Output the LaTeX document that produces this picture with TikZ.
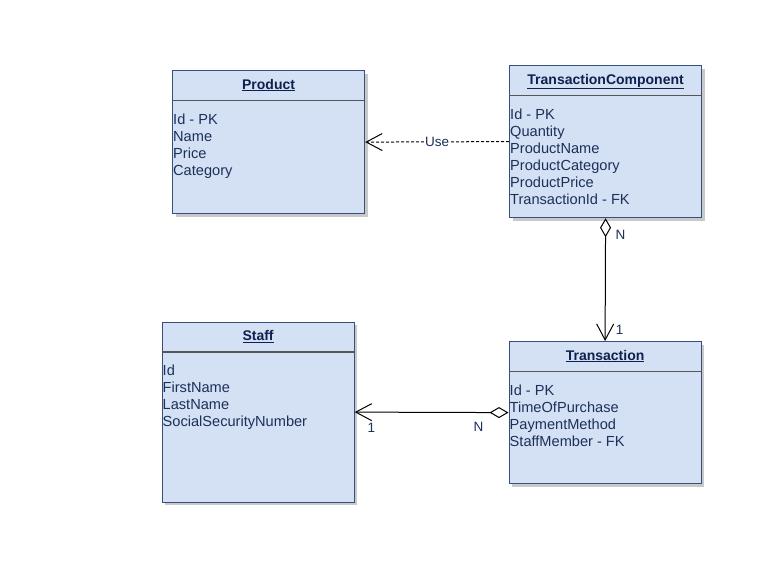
\documentclass[tikz,border=0pt]{standalone}
\usepackage{fontspec}
\setmainfont{Liberation Sans}
\usetikzlibrary{arrows.meta,shadows}
\definecolor{boxfill}{RGB}{212,225,245}
\definecolor{boxline}{RGB}{52,80,125}
\definecolor{divline}{RGB}{85,85,90}
\definecolor{txt}{RGB}{28,48,88}
\definecolor{ttl}{RGB}{14,32,78}
\tikzset{
  classbox/.style={draw=boxline, fill=boxfill, line width=1.2pt, anchor=north west,
    inner sep=0pt, minimum width=192pt,
    drop shadow={shadow xshift=3pt, shadow yshift=-3pt, opacity=0.35, fill=black!60}},
  classtitle/.style={anchor=base, inner sep=0pt, text=ttl, font=\fontsize{14}{16}\selectfont\bfseries},
  attr/.style={anchor=base west, inner sep=0pt, text=txt, font=\fontsize{14.6}{16}\selectfont},
  lbl/.style={inner sep=0pt, text=txt, font=\fontsize{13.5}{15}\selectfont},
  conn/.style={line width=1pt, black},
  barb/.tip={Straight Barb[length=16pt,width=17pt,line width=1pt]},
  agg/.tip={Diamond[open,length=19pt,width=11pt,line width=1pt]}
}
\newcommand{\classheader}[2]{%
  \node[classtitle] (#1-title) at ([yshift=-19pt]#1.north) {\underline{#2}};
  \draw[divline, line width=1.2pt] ([yshift=-30.5pt]#1.north west) -- ([yshift=-30.5pt]#1.north east);}
\begin{document}
\begin{tikzpicture}[x=1pt,y=-1pt]
\useasboundingbox[fill=white] (0,0) rectangle (777,587);

% Class boxes
\node[classbox, minimum height=143pt] (product) at (172,70) {};
\node[classbox, minimum height=152pt] (tc) at (509,65) {};
\node[classbox, minimum height=142pt] (transaction) at (508.5,341) {};
\node[classbox, minimum height=180pt] (staff) at (161.5,321.5) {};

\classheader{product}{Product}
\classheader{tc}{TransactionComponent}
\classheader{transaction}{Transaction}
\classheader{staff}{Staff}

% Attributes
\foreach \t [count=\i from 0] in {Id - PK, Name, Price, Category}
  \node[attr] at ([xshift=1pt, yshift={-54pt-17*\i pt}]product.north west) {\t};
\foreach \t [count=\i from 0] in {Id - PK, Quantity, ProductName, ProductCategory, ProductPrice, TransactionId - FK}
  \node[attr] at ([xshift=1pt, yshift={-54pt-17*\i pt}]tc.north west) {\t};
\foreach \t [count=\i from 0] in {Id - PK, TimeOfPurchase, PaymentMethod, StaffMember - FK}
  \node[attr] at ([xshift=1pt, yshift={-54pt-17*\i pt}]transaction.north west) {\t};
\foreach \t [count=\i from 0] in {Id, FirstName, LastName, SocialSecurityNumber}
  \node[attr] at ([xshift=1pt, yshift={-53.5pt-17*\i pt}]staff.north west) {\t};

% Connectors
\draw[conn, dashed, dash pattern=on 3pt off 2pt, -barb] (tc.west) -- (product.east)
  node[lbl, midway, fill=white, inner xsep=1pt, inner ysep=2pt] (use) {Use};
\draw[conn, agg-barb] (tc.south) -- (transaction.north);
\draw[conn, agg-barb] (transaction.west) -- (staff.east);

% Multiplicities
\node[lbl] (m1) at (620.5,234.5) {N};
\node[lbl] (m2) at (619.5,329.5) {1};
\node[lbl] (m3) at (371.5,427.5) {1};
\node[lbl] (m4) at (478.5,426.5) {N};
\end{tikzpicture}
\end{document}
